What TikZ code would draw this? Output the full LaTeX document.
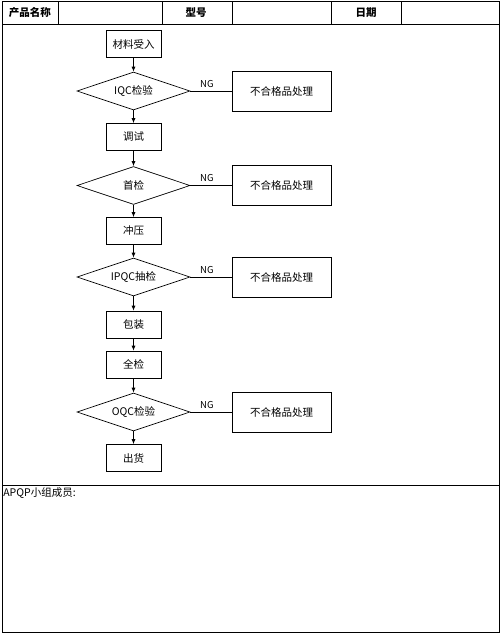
\documentclass[tikz,border=0pt]{standalone}
\usepackage{fontspec}
\newfontfamily\cjk{Noto Sans CJK SC}
\usetikzlibrary{shapes.geometric, arrows.meta}

\begin{document}
\begin{tikzpicture}[x=1pt, y=-1pt, font=\cjk\fontsize{10.5}{12}\selectfont, line width=0.7pt,
    procbox/.style={draw, minimum width=55pt, minimum height=27pt, inner sep=0pt},
    checkbox/.style={draw, diamond, shape aspect=3, minimum width=113pt, minimum height=38pt, inner sep=0pt},
    ngbox/.style={draw, minimum width=99pt, minimum height=40pt, inner sep=0pt},
    flow/.style={-{Latex[length=5pt, width=4pt]}}]
  \useasboundingbox (0,0) rectangle (500,633);
  % form frame
  \draw[line width=0.9pt] (2,1) rectangle (499,632);
  \draw (2,24) -- (499,24);
  \draw (2,485) -- (499,485);
  \foreach \x in {58,162,232,331,401}
    \draw (\x,1) -- (\x,24);
  \node[font=\cjk\bfseries\fontsize{10.5}{12}\selectfont] (hname) at (30,12.5) {产品名称};
  \node[font=\cjk\bfseries\fontsize{10.5}{12}\selectfont] (hmodel) at (196,12.5) {型号};
  \node[font=\cjk\bfseries\fontsize{10.5}{12}\selectfont] (hdate) at (366,12.5) {日期};
  % process steps
  \foreach \n/\y/\t in {
      m1/44/材料受入,
      m2/137/调试,
      m3/231/冲压,
      m4/324.5/包装,
      m5/364.5/全检,
      m6/458/出货}
    \node[procbox] (\n) at (133.5,\y) {\t};
  % checks with NG branch
  \foreach \n/\y/\t in {
      d1/91/IQC检验,
      d2/185.5/首检,
      d3/277/IPQC抽检,
      d4/412/OQC检验}
    {\node[checkbox] (\n) at (133.5,\y) {\t};
     \node[ngbox] (\n-ng) at (281.5,\y) {不合格品处理};
     \draw (\n.east) -- node[pos=0.4, above, font=\cjk\fontsize{9.5}{10}\selectfont] {NG} (\n-ng.west);}
  \foreach \a/\b in {m1/d1, d1/m2, m2/d2, d2/m3, m3/d3, d3/m4, m4/m5, m5/d4, d4/m6}
    \draw[flow] (\a) -- (\b);
  \node[anchor=north west, inner sep=0pt] (team) at (3,487) {APQP小组成员:};
\end{tikzpicture}
\end{document}
